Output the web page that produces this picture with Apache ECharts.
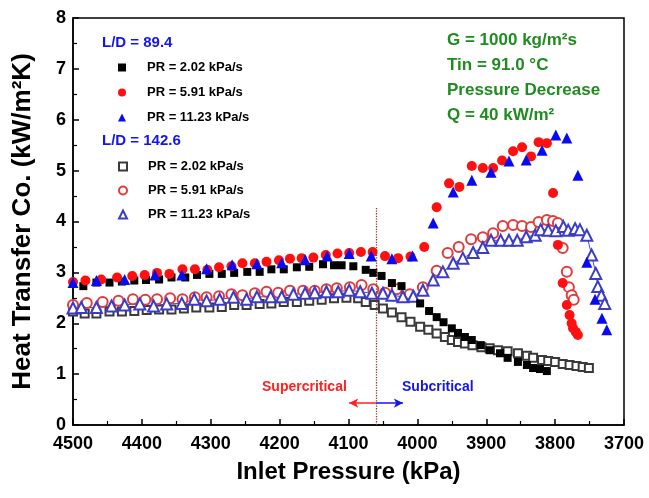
<!DOCTYPE html>
<html>
<head>
<meta charset="utf-8">
<script src="https://cdn.jsdelivr.net/npm/echarts@6/dist/echarts.min.js"></script>
<style>
html,body{margin:0;padding:0;background:#fff;}
#chart{width:649px;height:498px;}
</style>
</head>
<body>
<div id="chart"></div>
<script>
// ---------- DATA : [inlet pressure (kPa), heat transfer coefficient (kW/m2K)] ----------
// L/D = 89.4
const ld89_pr202 = [
  [4485,2.73],[4466,2.80],[4447,2.80],[4429,2.82],[4411,2.84],[4394,2.85],[4375,2.86],[4357,2.90],
  [4337,2.90],[4320,2.95],[4302,2.97],[4284,2.97],[4266,2.99],[4247,3.01],[4229,3.01],[4212,3.06],
  [4194,3.06],[4175,3.10],[4157,3.11],[4137,3.16],[4121,3.14],[4110,3.14],[4093,3.12],[4075,3.05],
  [4064,2.99],[4052,2.93],[4037,2.79],[4023,2.73],[3996,2.39],[3983,2.24],[3972,2.12],[3962,2.02],
  [3950,1.90],[3941,1.81],[3931,1.73],[3921,1.67],[3908,1.57],[3895,1.47],[3880,1.41],[3869,1.32],
  [3854,1.24],[3841,1.18],[3832,1.12],[3822,1.10],[3812,1.06]
];
const ld89_pr591 = [
  [4500,2.81],[4482,2.84],[4459,2.86],[4436,2.90],[4414,2.93],[4396,2.95],[4378,2.99],[4360,2.97],
  [4341,3.06],[4323,3.06],[4305,3.05],[4288,3.10],[4270,3.12],[4254,3.18],[4236,3.18],[4219,3.21],
  [4201,3.24],[4185,3.27],[4168,3.28],[4151,3.29],[4133,3.34],[4116,3.37],[4099,3.38],[4082,3.40],
  [4065,3.40],[4047,3.32],[4028,3.28],[4010,3.31],[3990,3.50],[3972,4.28],[3954,4.75],[3939,4.68],
  [3921,5.09],[3905,5.05],[3890,5.05],[3877,5.20],[3861,5.38],[3848,5.46],[3835,5.28],[3824,5.56],
  [3812,5.54],[3803,4.56],[3796,3.54],[3789,2.79],[3783,2.36],[3779,2.16],[3776,2.00],[3774,1.90],
  [3770,1.83],[3767,1.77]
];
const ld89_pr1123 = [
  [4500,2.80],[4466,2.84],[4425,2.86],[4381,2.95],[4342,2.95],[4306,3.07],[4269,3.15],[4233,3.17],
  [4197,3.19],[4163,3.25],[4131,3.32],[4099,3.37],[4067,3.32],[4037,3.27],[4007,3.32],[3977,3.97],
  [3948,4.58],[3921,4.81],[3893,4.97],[3867,5.19],[3842,5.21],[3819,5.40],[3799,5.70],[3783,5.64],
  [3767,4.91],[3754,3.20],[3742,2.47],[3732,2.10],[3725,1.87]
];
// L/D = 142.6
const ld142_pr202 = [
  [4500,2.23],[4483,2.19],[4466,2.19],[4447,2.23],[4429,2.23],[4411,2.24],[4393,2.26],[4375,2.27],
  [4357,2.27],[4339,2.29],[4321,2.31],[4302,2.31],[4284,2.32],[4266,2.36],[4248,2.36],[4229,2.38],
  [4212,2.39],[4194,2.42],[4175,2.42],[4157,2.44],[4139,2.46],[4121,2.49],[4103,2.50],[4086,2.49],
  [4075,2.42],[4062,2.36],[4050,2.29],[4037,2.21],[4023,2.12],[4010,2.03],[3996,1.93],[3984,1.87],
  [3972,1.80],[3960,1.73],[3950,1.67],[3941,1.63],[3931,1.60],[3920,1.57],[3907,1.53],[3895,1.51],
  [3883,1.47],[3869,1.45],[3854,1.41],[3841,1.36],[3832,1.32],[3819,1.28],[3810,1.26],[3800,1.24],
  [3789,1.20],[3779,1.18],[3769,1.16],[3760,1.14],[3751,1.12]
];
const ld142_pr591 = [
  [4500,2.36],[4480,2.40],[4457,2.42],[4434,2.44],[4413,2.47],[4395,2.46],[4378,2.47],[4359,2.49],
  [4341,2.47],[4323,2.51],[4306,2.51],[4288,2.53],[4270,2.57],[4254,2.55],[4236,2.59],[4219,2.62],
  [4202,2.60],[4185,2.64],[4166,2.64],[4149,2.64],[4132,2.67],[4117,2.69],[4098,2.71],[4081,2.75],
  [4064,2.67],[4047,2.60],[4030,2.67],[4011,2.57],[3992,2.71],[3972,3.03],[3956,3.38],[3940,3.50],
  [3922,3.65],[3905,3.69],[3890,3.77],[3876,3.91],[3861,3.93],[3848,3.91],[3835,3.89],[3824,3.99],
  [3812,4.03],[3803,4.01],[3796,3.97],[3789,3.48],[3783,3.01],[3780,2.71],[3776,2.55],[3773,2.46]
];
const ld142_pr1123 = [
  [4500,2.30],[4488,2.31],[4466,2.31],[4444,2.34],[4425,2.36],[4403,2.38],[4383,2.34],[4364,2.38],
  [4342,2.39],[4324,2.47],[4306,2.44],[4287,2.47],[4267,2.51],[4248,2.47],[4233,2.52],[4213,2.52],
  [4197,2.52],[4180,2.57],[4163,2.59],[4149,2.60],[4132,2.62],[4115,2.62],[4099,2.65],[4083,2.62],
  [4066,2.59],[4050,2.59],[4037,2.55],[4021,2.52],[4006,2.53],[3992,2.65],[3977,2.85],[3963,3.01],
  [3948,3.18],[3934,3.28],[3919,3.39],[3905,3.49],[3893,3.63],[3879,3.63],[3867,3.63],[3855,3.63],
  [3842,3.70],[3829,3.73],[3821,3.84],[3810,3.83],[3799,3.82],[3788,3.90],[3781,3.83],[3771,3.86],
  [3764,3.84],[3754,3.73],[3747,3.34],[3741,2.98],[3738,2.72],[3733,2.55],[3728,2.39]
];
// axis & annotation values
const xTicks = {min: 3700, max: 4500, step: 100};
const yTicks = {min: 0, max: 8, step: 1};
const criticalPressure = 4060;     // supercritical / subcritical boundary (kPa)
const boundaryTop = 4.28;          // top of dotted boundary line
const arrowLevel = 0.43;           // htc level of the arrows
const arrowSpan = 39;              // kPa length of each arrow
const legendGroups = ['L/D = 89.4', 'L/D = 142.6'];
const prLabels = ['PR = 2.02 kPa/s', 'PR = 5.91 kPa/s', 'PR = 11.23 kPa/s'];
const infoLines = ['G = 1000 kg/m²s', 'Tin = 91.0 °C', 'Pressure Decrease', 'Q = 40 kW/m²'];

// ---------- CHART ----------
const FONT = '"Liberation Sans", Arial, Helvetica, sans-serif';
const n = (g, i) => legendGroups[g] + ' | ' + prLabels[i];
const chart = echarts.init(document.getElementById('chart'), null, {renderer: 'canvas'});

const scatter = (name, data, symbol, size, color, z) => ({
  name, type: 'scatter', data, symbol, symbolSize: size, z: z,
  itemStyle: {color: color, borderWidth: symbol.indexOf('empty') === 0 ? 1 : 0, opacity: 1},
  emphasis: {disabled: true}, silent: true
});

const legendCommon = {
  orient: 'vertical', left: 118, itemWidth: 8, itemHeight: 8,
  padding: 0, selectedMode: false, symbolKeepAspect: true,
  textStyle: {fontFamily: FONT, fontWeight: 'bold', fontSize: 13, color: '#000', padding: [0, 0, 0, 16]},
  formatter: s => s.split(' | ')[1]
};

const infoGraphics = infoLines.map((t, i) => ({
  type: 'text', left: 447, top: 32 + i * 25, silent: true,
  style: {text: t, fill: '#1e8c1e', font: 'bold 17px ' + FONT}
}));

chart.setOption({
  animation: false,
  backgroundColor: '#fff',
  grid: {left: 73, right: 25, top: 18, bottom: 73, show: true, borderColor: '#000', borderWidth: 1.5, backgroundColor: 'transparent'},
  xAxis: {
    type: 'value', inverse: true, min: xTicks.min, max: xTicks.max, interval: xTicks.step,
    axisLine: {onZero: false, lineStyle: {color: '#000', width: 1.5}},
    axisTick: {inside: true, length: 6, lineStyle: {color: '#000', width: 1.5}},
    minorTick: {show: true, splitNumber: 2, length: 4, lineStyle: {color: '#000', width: 1.2}},
    splitLine: {show: false},
    axisLabel: {fontFamily: FONT, fontWeight: 'bold', fontSize: 18, color: '#000', margin: 10, formatter: v => String(v)},
    name: 'Inlet Pressure (kPa)', nameLocation: 'middle', nameGap: 35,
    nameTextStyle: {fontFamily: FONT, fontWeight: 'bold', fontSize: 24, color: '#000'}
  },
  yAxis: {
    type: 'value', min: yTicks.min, max: yTicks.max, interval: yTicks.step,
    axisLine: {lineStyle: {color: '#000', width: 1.5}},
    axisTick: {inside: true, length: 6, lineStyle: {color: '#000', width: 1.5}},
    minorTick: {show: true, splitNumber: 2, length: 4, lineStyle: {color: '#000', width: 1.2}},
    splitLine: {show: false},
    axisLabel: {fontFamily: FONT, fontWeight: 'bold', fontSize: 18, color: '#000', margin: 7, formatter: v => String(v)},
    name: 'Heat Transfer Co. (kW/m²K)', nameLocation: 'middle', nameGap: 37,
    nameTextStyle: {fontFamily: FONT, fontWeight: 'bold', fontSize: 26, color: '#000'}
  },
  legend: [
    Object.assign({}, legendCommon, {top: 61, itemGap: 12, data: [n(0,0), n(0,1), n(0,2)]}),
    Object.assign({}, legendCommon, {top: 160, itemGap: 11, data: [n(1,0), n(1,1), n(1,2)]})
  ],
  graphic: [
    {type: 'text', left: 102, top: 35, silent: true, style: {text: legendGroups[0], fill: '#1414f0', font: 'bold 15px ' + FONT}},
    {type: 'text', left: 102, top: 133, silent: true, style: {text: legendGroups[1], fill: '#1414f0', font: 'bold 15px ' + FONT}},
    {type: 'text', left: 262, top: 380, silent: true, style: {text: 'Supercritical', fill: '#ff2020', font: 'bold 14px ' + FONT}},
    {type: 'text', left: 402, top: 380, silent: true, style: {text: 'Subcritical', fill: '#1414f0', font: 'bold 14px ' + FONT}}
  ].concat(infoGraphics),
  series: [
    {
      name: 'open-triangle-line', type: 'line', data: ld142_pr1123, showSymbol: false, z: 1,
      lineStyle: {color: '#4848d0', width: 1}, silent: true,
      markLine: {
        silent: true, symbol: 'none', label: {show: false},
        lineStyle: {type: 'dotted', color: '#9a3434', width: 1.3},
        data: [[{coord: [criticalPressure, 0]}, {coord: [criticalPressure, boundaryTop]}]]
      }
    },
    scatter(n(1,0), ld142_pr202, 'emptyRect', 8, '#3a3a3a', 2),
    scatter(n(1,1), ld142_pr591, 'emptyCircle', 10, '#e03c3c', 2),
    scatter(n(1,2), ld142_pr1123, 'emptyTriangle', 11, '#3c3cc8', 2),
    scatter(n(0,0), ld89_pr202, 'rect', 8, '#000000', 3),
    Object.assign(scatter(n(0,1), ld89_pr591, 'circle', 10, '#ff1010', 3), {
      markLine: {
        silent: true, label: {show: false}, symbol: ['none', 'arrow'], symbolSize: [7, 9],
        lineStyle: {type: 'solid', color: '#ff2020', width: 1.5},
        data: [[{coord: [criticalPressure, arrowLevel]}, {coord: [criticalPressure + arrowSpan, arrowLevel]}]]
      }
    }),
    Object.assign(scatter(n(0,2), ld89_pr1123, 'triangle', 11, '#0a0af0', 3), {
      markLine: {
        silent: true, label: {show: false}, symbol: ['none', 'arrow'], symbolSize: [7, 9],
        lineStyle: {type: 'solid', color: '#1414f0', width: 1.5},
        data: [[{coord: [criticalPressure, arrowLevel]}, {coord: [criticalPressure - arrowSpan, arrowLevel]}]]
      }
    })
  ]
});
</script>
</body>
</html>
